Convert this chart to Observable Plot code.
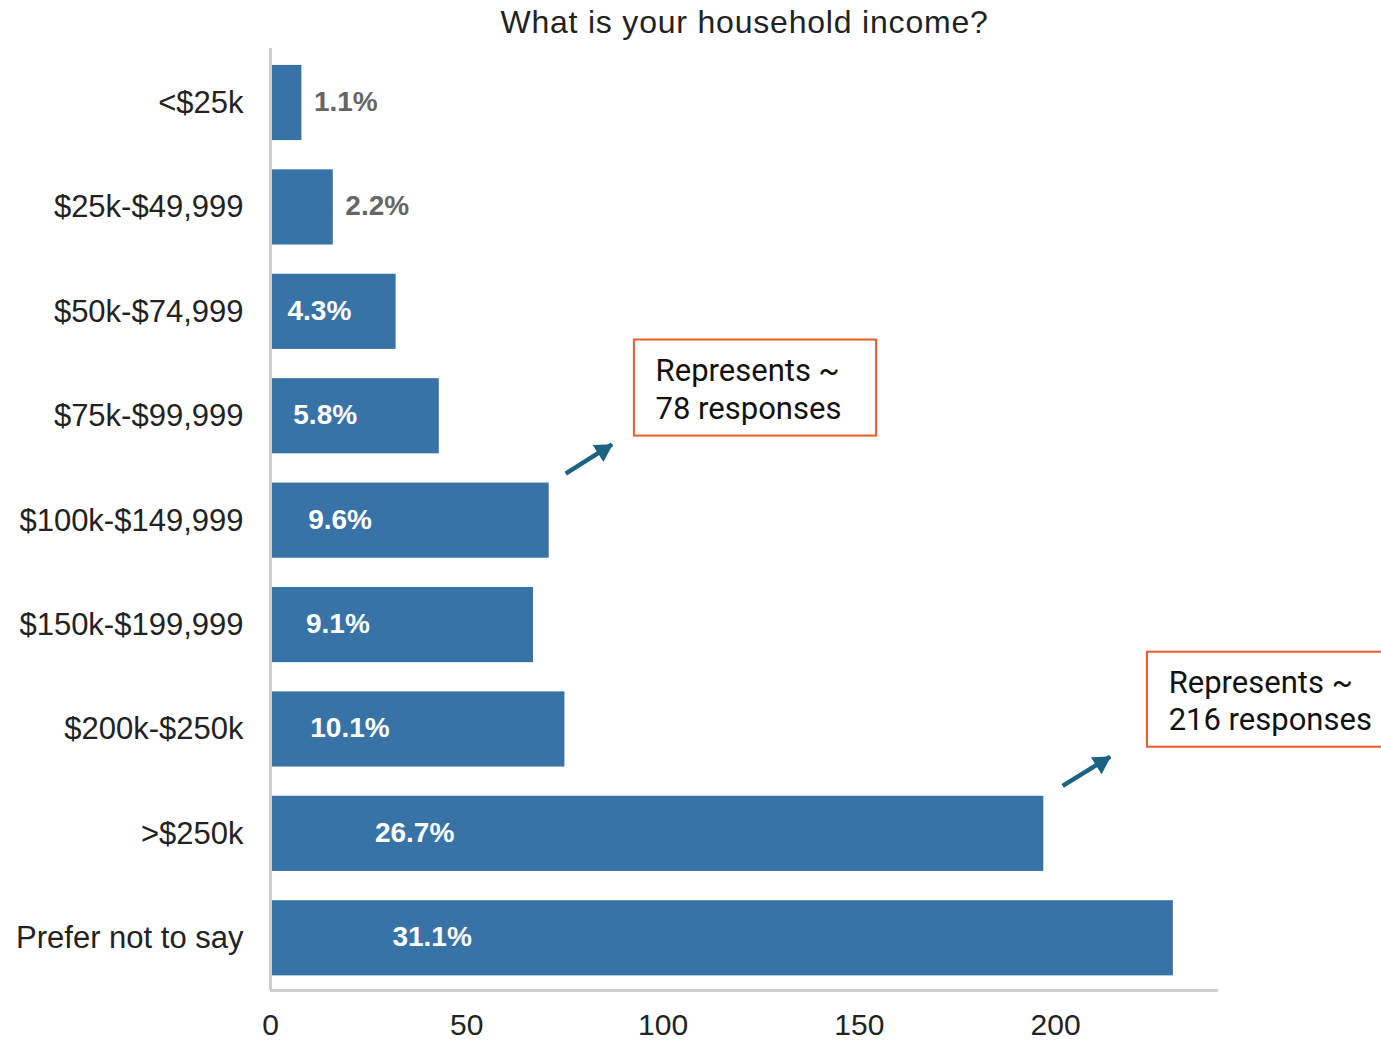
<!DOCTYPE html>
<html>
<head>
<meta charset="utf-8">
<script src="https://cdn.jsdelivr.net/npm/d3@7"></script>
<script src="https://cdn.jsdelivr.net/npm/@observablehq/plot@0.6"></script>
<style>
  html, body { margin: 0; padding: 0; background: #fff; }
  #chart svg { display: block; }
</style>
</head>
<body>
<div id="chart"></div>
<script>
// ---- data ----
const title = "What is your household income?";
const categories = ["<$25k", "$25k-$49,999", "$50k-$74,999", "$75k-$99,999", "$100k-$149,999", "$150k-$199,999", "$200k-$250k", ">$250k", "Prefer not to say"];
const counts = [8, 16, 32, 43, 71, 67, 75, 197, 230];
const percents = ["1.1%", "2.2%", "4.3%", "5.8%", "9.6%", "9.1%", "10.1%", "26.7%", "31.1%"];
const xTicks = [0, 50, 100, 150, 200];

// annotations (x in responses, y in category-row units)
const noteTexts = ["Represents ~\n78 responses", "Represents ~\n216 responses"];
const noteTextX = [98.1, 228.8];
const noteTextY = [2.73, 5.71];
const noteBoxX1 = [92.7, 223.4];
const noteBoxX2 = [154.4, 292];
const noteBoxY1 = [2.27, 5.26];
const noteBoxY2 = [3.19, 6.17];
const arrowX1 = [75.2, 201.8];
const arrowY1 = [3.55, 6.54];
const arrowX2 = [87.0, 213.9];
const arrowY2 = [3.27, 6.26];

// ---- tables built from arrays ----
const rows = categories.map((c, i) => ({c, i, n: counts[i], p: percents[i]}));
const notes = noteTexts.map((t, i) => ({
  t, tx: noteTextX[i], ty: noteTextY[i],
  bx1: noteBoxX1[i], bx2: noteBoxX2[i], by1: noteBoxY1[i], by2: noteBoxY2[i],
  ax1: arrowX1[i], ay1: arrowY1[i], ax2: arrowX2[i], ay2: arrowY2[i]
}));

const sans = "'Liberation Sans', Arial, Helvetica, sans-serif";
const barColor = "#3873a7";
const axisColor = "#cfcfcf";
const arrowColor = "#1b6383";

const plot = Plot.plot({
  width: 1381,
  height: 1041,
  marginTop: 48,
  marginBottom: 51,
  marginLeft: 270,
  marginRight: 163,
  style: {fontFamily: sans, fontSize: "31px", color: "#222", background: "#fff"},
  x: {domain: [0, 241.5]},
  y: {domain: [-0.522, 8.5], reverse: true},
  marks: [
    Plot.rectX(rows, {x1: 0, x2: "n", y1: d => d.i - 0.36, y2: d => d.i + 0.36, fill: barColor}),
    Plot.ruleX([0], {stroke: axisColor, strokeWidth: 3}),
    Plot.ruleY([8.5], {stroke: axisColor, strokeWidth: 3}),
    Plot.axisX({ticks: xTicks, tickSize: 0, tickPadding: 23, label: null, fontSize: 30, fill: "#222"}),
    Plot.axisY({ticks: d3.range(categories.length), tickFormat: i => categories[i], tickSize: 0, tickPadding: 27, label: null, fontSize: 31, fill: "#222"}),
    // value labels
    Plot.text(rows.filter(d => d.n >= 20), {x: d => d.n * 0.135, y: "i", text: "p", textAnchor: "start", fill: "white", fontWeight: "bold", fontSize: 28, dy: -1}),
    Plot.text(rows.filter(d => d.n < 20), {x: "n", y: "i", text: "p", textAnchor: "start", dx: 12, fill: "#666", fontWeight: "bold", fontSize: 28, dy: -1}),
    // annotations
    Plot.rect(notes, {x1: "bx1", x2: "bx2", y1: "by1", y2: "by2", fill: "none", stroke: "#ea5a2d", strokeWidth: 2}),
    Plot.text(notes, {x: "tx", y: "ty", text: "t", textAnchor: "start", lineAnchor: "middle", lineHeight: 1.2, fontSize: 31, fontFamily: "Roboto, sans-serif", fill: "#111"}),
    Plot.link(notes, {x1: "ax1", y1: "ay1", x2: "ax2", y2: "ay2", stroke: arrowColor, strokeWidth: 4.5, insetEnd: 8}),
    Plot.dot(notes, {x: "ax2", y: "ay2", symbol: "triangle", r: 7.5, rotate: 58, fill: arrowColor, stroke: "none", dx: -9, dy: 6}),
    // title
    Plot.text([title], {frameAnchor: "top", dy: -26, lineAnchor: "middle", fontSize: 32, fill: "#222"})
  ]
});
d3.select(plot).selectAll("text").filter(function() { return this.textContent === title; }).attr("letter-spacing", "0.8px");
document.getElementById("chart").appendChild(plot);
</script>
</body>
</html>
